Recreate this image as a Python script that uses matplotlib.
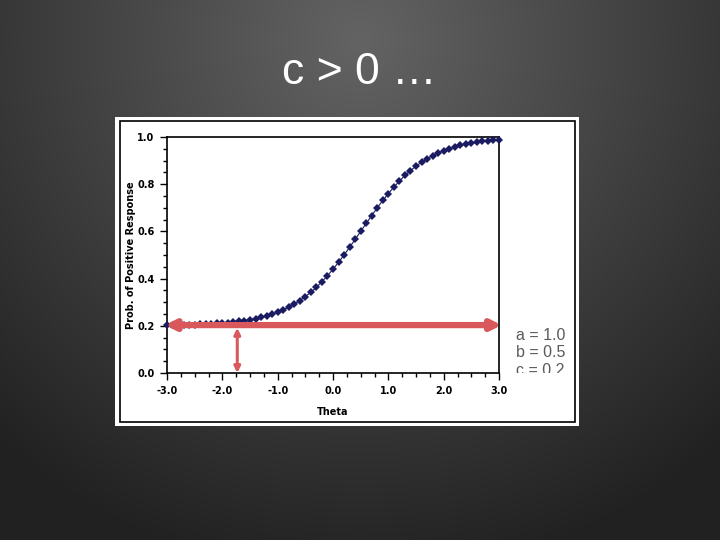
import numpy as np
import matplotlib
matplotlib.use("Agg")
import matplotlib.pyplot as plt
from matplotlib.patches import Rectangle

# theta grid and probabilities (a=1.0, b=0.5, c=0.2)
theta = [round(-3.0 + 0.1 * i, 1) for i in range(61)]
prob = [0.202, 0.202, 0.203, 0.203, 0.204, 0.205, 0.206, 0.207, 0.208, 0.210,
        0.211, 0.213, 0.216, 0.219, 0.222, 0.226, 0.230, 0.236, 0.242, 0.249,
        0.258, 0.268, 0.279, 0.292, 0.307, 0.324, 0.342, 0.363, 0.387, 0.412,
        0.440, 0.469, 0.500, 0.533, 0.566, 0.600, 0.634, 0.667, 0.700, 0.731,
        0.760, 0.788, 0.813, 0.837, 0.858, 0.876, 0.893, 0.908, 0.921, 0.932,
        0.942, 0.951, 0.958, 0.964, 0.970, 0.974, 0.978, 0.981, 0.984, 0.987,
        0.989]
x_ticks = [-3.0, -2.0, -1.0, 0.0, 1.0, 2.0, 3.0]
y_ticks = [0.0, 0.2, 0.4, 0.6, 0.8, 1.0]
c_level = 0.203
theta_c = -1.73
params = "a = 1.0\nb = 0.5\nc = 0.2"

W, H = 720, 540
fig = plt.figure(figsize=(7.2, 5.4), dpi=100)

# slide background: dark radial gradient
bg = fig.add_axes([0, 0, 1, 1])
yy, xx = np.mgrid[0:H, 0:W]
r = np.sqrt(((xx - 360) / 520.0) ** 2 + ((yy - 40) / 520.0) ** 2)
shade = np.clip(0.39 - 0.25 * r, 0.13, 0.40)
bg.imshow(np.dstack([shade] * 3), extent=[0, W, H, 0], aspect="auto")
bg.set_xlim(0, W)
bg.set_ylim(H, 0)
bg.axis("off")

bg.text(359, 83.5, "c > 0 \u2026", color="white", fontsize=32,
        family="Liberation Sans", ha="center", va="baseline")

# white chart area with thin black frame
bg.add_patch(Rectangle((115, 117), 464, 309, facecolor="white", edgecolor="none"))
bg.add_patch(Rectangle((120, 121), 455, 301, facecolor="none", edgecolor="black", lw=1.2))

ax = fig.add_axes([167 / W, 1 - 373 / H, (499 - 167) / W, (373 - 137) / H])
ax.set_facecolor("white")
ax.plot(theta, prob, color="#1b1b62", lw=0.8, marker="D", ms=3.6,
        markeredgewidth=0, clip_on=False, zorder=3)

ax.set_xlim(-3.0, 3.0)
ax.set_ylim(0.0, 1.0)
ax.set_xticks(x_ticks)
ax.set_xticklabels([f"{v:.1f}" for v in x_ticks])
ax.set_yticks(y_ticks)
ax.set_yticklabels([f"{v:.1f}" for v in y_ticks])
ax.set_xticks(np.arange(-3.0, 3.01, 0.25), minor=True)
ax.set_yticks(np.arange(0.0, 1.01, 0.05), minor=True)
ax.tick_params(which="both", direction="out", width=1, colors="black",
               labelsize=7)
ax.tick_params(which="major", length=5, pad=4)
ax.tick_params(which="minor", length=3)
for lab in ax.get_xticklabels() + ax.get_yticklabels():
    lab.set_fontweight("bold")
for s in ax.spines.values():
    s.set_linewidth(1.2)
ax.set_xlabel("Theta", fontsize=7, fontweight="bold", labelpad=8)
ax.set_ylabel("Prob. of Positive Response", fontsize=7, fontweight="bold",
              labelpad=1)

# red arrows
red = "#d9585b"
ax.annotate("", xy=(-3.04, c_level), xytext=(3.05, c_level),
            arrowprops=dict(arrowstyle="<|-|>", color=red, lw=4.5,
                            mutation_scale=14, shrinkA=0, shrinkB=0),
            annotation_clip=False, zorder=5)
ax.annotate("", xy=(theta_c, 0.0), xytext=(theta_c, c_level - 0.012),
            arrowprops=dict(arrowstyle="<|-|>", color=red, lw=2.2,
                            mutation_scale=9, shrinkA=0, shrinkB=0),
            annotation_clip=False, zorder=5)

# parameter box text, cut off at the level of the x axis like the original
bg.text(516, 328, params, color="#5a5a5a", fontsize=11.5,
        family="Liberation Sans", ha="left", va="top", linespacing=1.2,
        zorder=3)
bg.add_patch(Rectangle((505, 372.5), 68, 20, facecolor="white",
                       edgecolor="none", zorder=4))

fig.savefig("out.png", dpi=100)
